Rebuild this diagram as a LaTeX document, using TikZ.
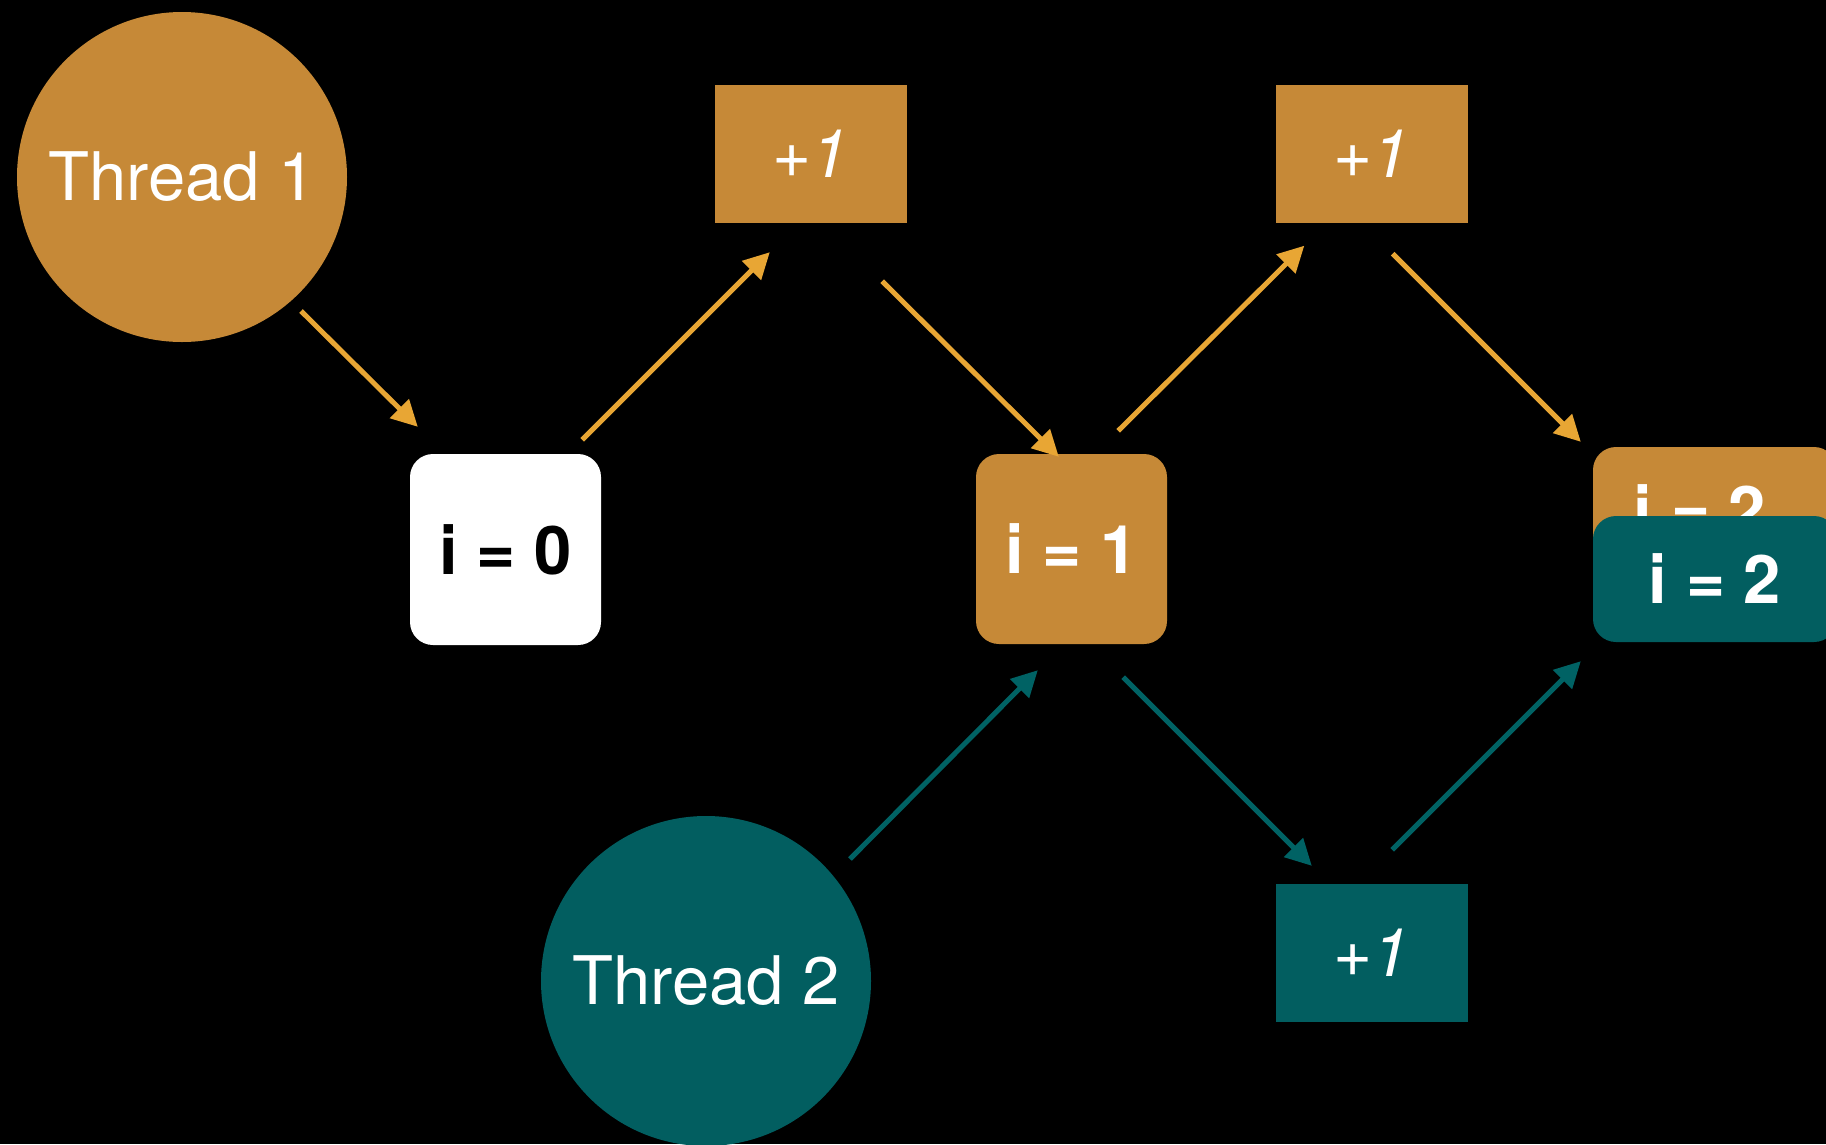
\documentclass[tikz,border=0pt]{standalone}
\usepackage{fontspec}
\setmainfont{TeX Gyre Heros}
\usetikzlibrary{arrows.meta}
\definecolor{ochre}{RGB}{198,137,55}
\definecolor{ochrearrow}{RGB}{232,166,52}
\definecolor{teal2}{RGB}{2,94,96}
\definecolor{tealarrow}{RGB}{0,98,100}
\tikzset{
  thread/.style={circle, inner sep=0pt, minimum size=330pt, text=white, font=\fontsize{67}{80}\selectfont},
  incbox/.style={rectangle, inner sep=0pt, minimum width=192pt, minimum height=138pt, text=white, font=\fontsize{67}{80}\selectfont\itshape},
  valbox/.style={rectangle, rounded corners=23pt, inner sep=0pt, font=\fontsize{67}{80}\selectfont\bfseries},
  arrO/.style={draw=ochrearrow, line width=5pt, -{Triangle[length=26pt,width=26pt]}},
  arrT/.style={draw=tealarrow, line width=5pt, -{Triangle[length=26pt,width=26pt]}},
}
\begin{document}
\begin{tikzpicture}[x=1pt,y=-1pt]
\useasboundingbox (0,0) rectangle (1826,1144);
\fill[black] (0,0) rectangle (1826,1144);
\clip (0,0) rectangle (1826,1144);
% nodes
\node[thread, fill=ochre] (t1) at (182,177) {Thread 1};
\node[thread, fill=teal2] (t2) at (706,981) {Thread 2};
\node[incbox, fill=ochre] (p1) at (811,154) {+1};
\node[incbox, fill=ochre] (p2) at (1371.5,153.5) {+1};
\node[incbox, fill=teal2] (p3) at (1372,953) {+1};
\node[valbox, fill=white, text=black, minimum width=191pt, minimum height=191pt] (i0) at (505.5,549.5) {i = 0};
\node[valbox, fill=ochre, text=white, minimum width=191pt, minimum height=190pt] (i1) at (1071.5,549) {i = 1};
\node[valbox, fill=ochre, text=white, minimum width=244pt, minimum height=126pt] (i2o) at (1715,510) {\hspace*{-30pt}i = 2};
\node[valbox, fill=teal2, text=white, minimum width=244pt, minimum height=126pt] (i2t) at (1715,579) {i = 2};
% connectors
\draw[arrO] ([shift={(119,134)}]t1.center) -- ([shift={(8,-27)}]i0.north west);
\draw[arrO] ([shift={(-19,-14)}]i0.north east) -- ([shift={(55,29)}]p1.south west);
\draw[arrO] ([shift={(-25,58)}]p1.south east) -- ([shift={(83,3)}]i1.north west);
\draw[arrO] ([shift={(-49,-23)}]i1.north east) -- ([shift={(29,23)}]p2.south west);
\draw[arrO] ([shift={(-75,31)}]p2.south east) -- ([shift={(-12,-5)}]i2o.north west);
\draw[arrT] ([shift={(144,-122)}]t2.center) -- ([shift={(62,26)}]i1.south west);
\draw[arrT] ([shift={(-44,33)}]i1.south east) -- ([shift={(36,-18)}]p3.north west);
\draw[arrT] ([shift={(-76,-34)}]p3.north east) -- ([shift={(-12,19)}]i2t.south west);
\end{tikzpicture}
\end{document}
